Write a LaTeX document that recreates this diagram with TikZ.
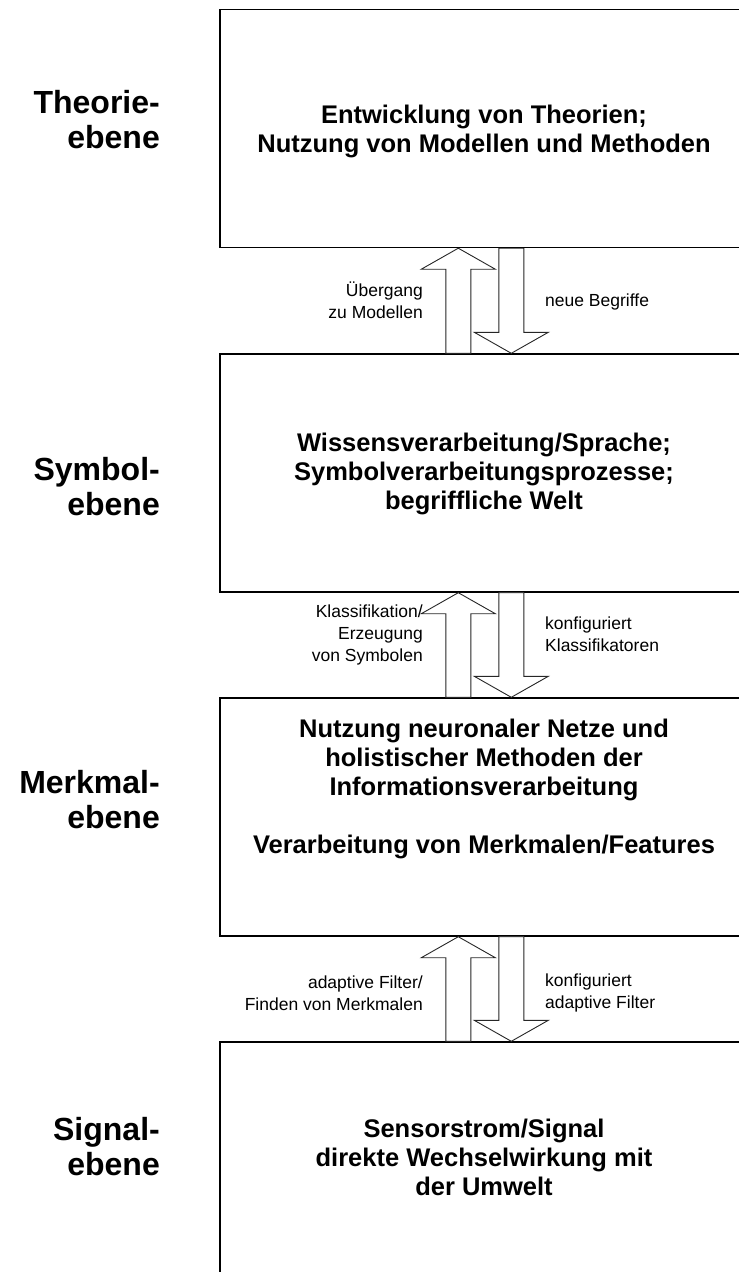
\documentclass[tikz,border=0pt]{standalone}
\usepackage{fontspec}
\setmainfont{Liberation Sans}
\usetikzlibrary{calc}
\tikzset{
  level/.style={draw=black, line width=1.4pt, minimum width=528pt, minimum height=238pt, inner sep=0pt},
  levelbottom/.style={draw=black, line width=1.4pt, minimum width=528pt, minimum height=260pt, inner sep=0pt},
  boxtext/.style={align=center, font=\fontsize{25.5}{29}\selectfont\bfseries, inner sep=0pt},
  sidelabel/.style={align=right, anchor=east, font=\fontsize{32}{35}\selectfont\bfseries, inner sep=0pt},
  lefttag/.style={align=right, anchor=east, font=\fontsize{17.5}{22}\selectfont, inner sep=0pt},
  righttag/.style={align=left, anchor=west, font=\fontsize{17.5}{22}\selectfont, inner sep=0pt},
  arr/.style={draw=black!85, line width=0.9pt, fill=white, line join=miter}
}
\newcommand{\arrowpair}[2]{% #1 lower box, #2 upper box
  \coordinate (ut) at ($(#2.south west)+(239,0)$);
  \coordinate (ur) at ($(ut)+(12.5,0)$);
  \coordinate (ul) at ($(ut)+(-12.5,0)$);
  \draw[arr] (ut) -- ($(ut)+(37,21)$) -- ($(ur)+(0,21)$) -- (ur |- #1.north)
     -- (ul |- #1.north) -- ($(ul)+(0,21)$) -- ($(ut)+(-37,21)$) -- cycle;
  \coordinate (dt) at ($(#1.north west)+(292,0)$);
  \coordinate (dr) at ($(dt)+(12.5,0)$);
  \coordinate (dl) at ($(dt)+(-12.5,0)$);
  \draw[arr] (dt) -- ($(dt)+(37,-21)$) -- ($(dr)+(0,-21)$) -- (dr |- #2.south)
     -- (dl |- #2.south) -- ($(dl)+(0,-21)$) -- ($(dt)+(-37,-21)$) -- cycle;
}
\begin{document}
\begin{tikzpicture}[x=1pt, y=-1pt]
\useasboundingbox (0,0) rectangle (739,1272);
% boxes
\node[level] (b1) at (484,128.5) {};
\node[level] (b2) at (484,473) {};
\node[level] (b3) at (484,817) {};
\node[levelbottom] (b4) at (484,1172) {};
% box texts
\node[boxtext] (t1) at (484,131) {Entwicklung von Theorien;\\Nutzung von Modellen und Methoden};
\node[boxtext] (t2) at (484,474) {Wissensverarbeitung/Sprache;\\Symbolverarbeitungsprozesse;\\begriffliche Welt};
\node[boxtext] (t3) at (484,789) {Nutzung neuronaler Netze und\\holistischer Methoden der\\Informationsverarbeitung\\[29pt]Verarbeitung von Merkmalen/Features};
\node[boxtext] (t4) at (484,1157) {Sensorstrom/Signal\\direkte Wechselwirkung mit\\der Umwelt};
% side labels
\node[sidelabel] (s1) at (160,120) {Theorie-\\ebene};
\node[sidelabel] (s2) at (160,487) {Symbol-\\ebene};
\node[sidelabel] (s3) at (160,800) {Merkmal-\\ebene};
\node[sidelabel] (s4) at (160,1147) {Signal-\\ebene};
% arrows
\arrowpair{b2}{b1}
\arrowpair{b3}{b2}
\arrowpair{b4}{b3}
% arrow labels
\node[lefttag] (l1) at (423,300) {Übergang\\zu Modellen};
\node[righttag] (r1) at (545,302) {neue Begriffe};
\node[lefttag] (l2) at (423,635) {Klassifikation/\\Erzeugung\\von Symbolen};
\node[righttag] (r2) at (545,634) {konfiguriert\\Klassifikatoren};
\node[lefttag] (l3) at (423,993) {adaptive Filter/\\Finden von Merkmalen};
\node[righttag] (r3) at (545,993) {konfiguriert\\adaptive Filter};
\end{tikzpicture}
\end{document}
